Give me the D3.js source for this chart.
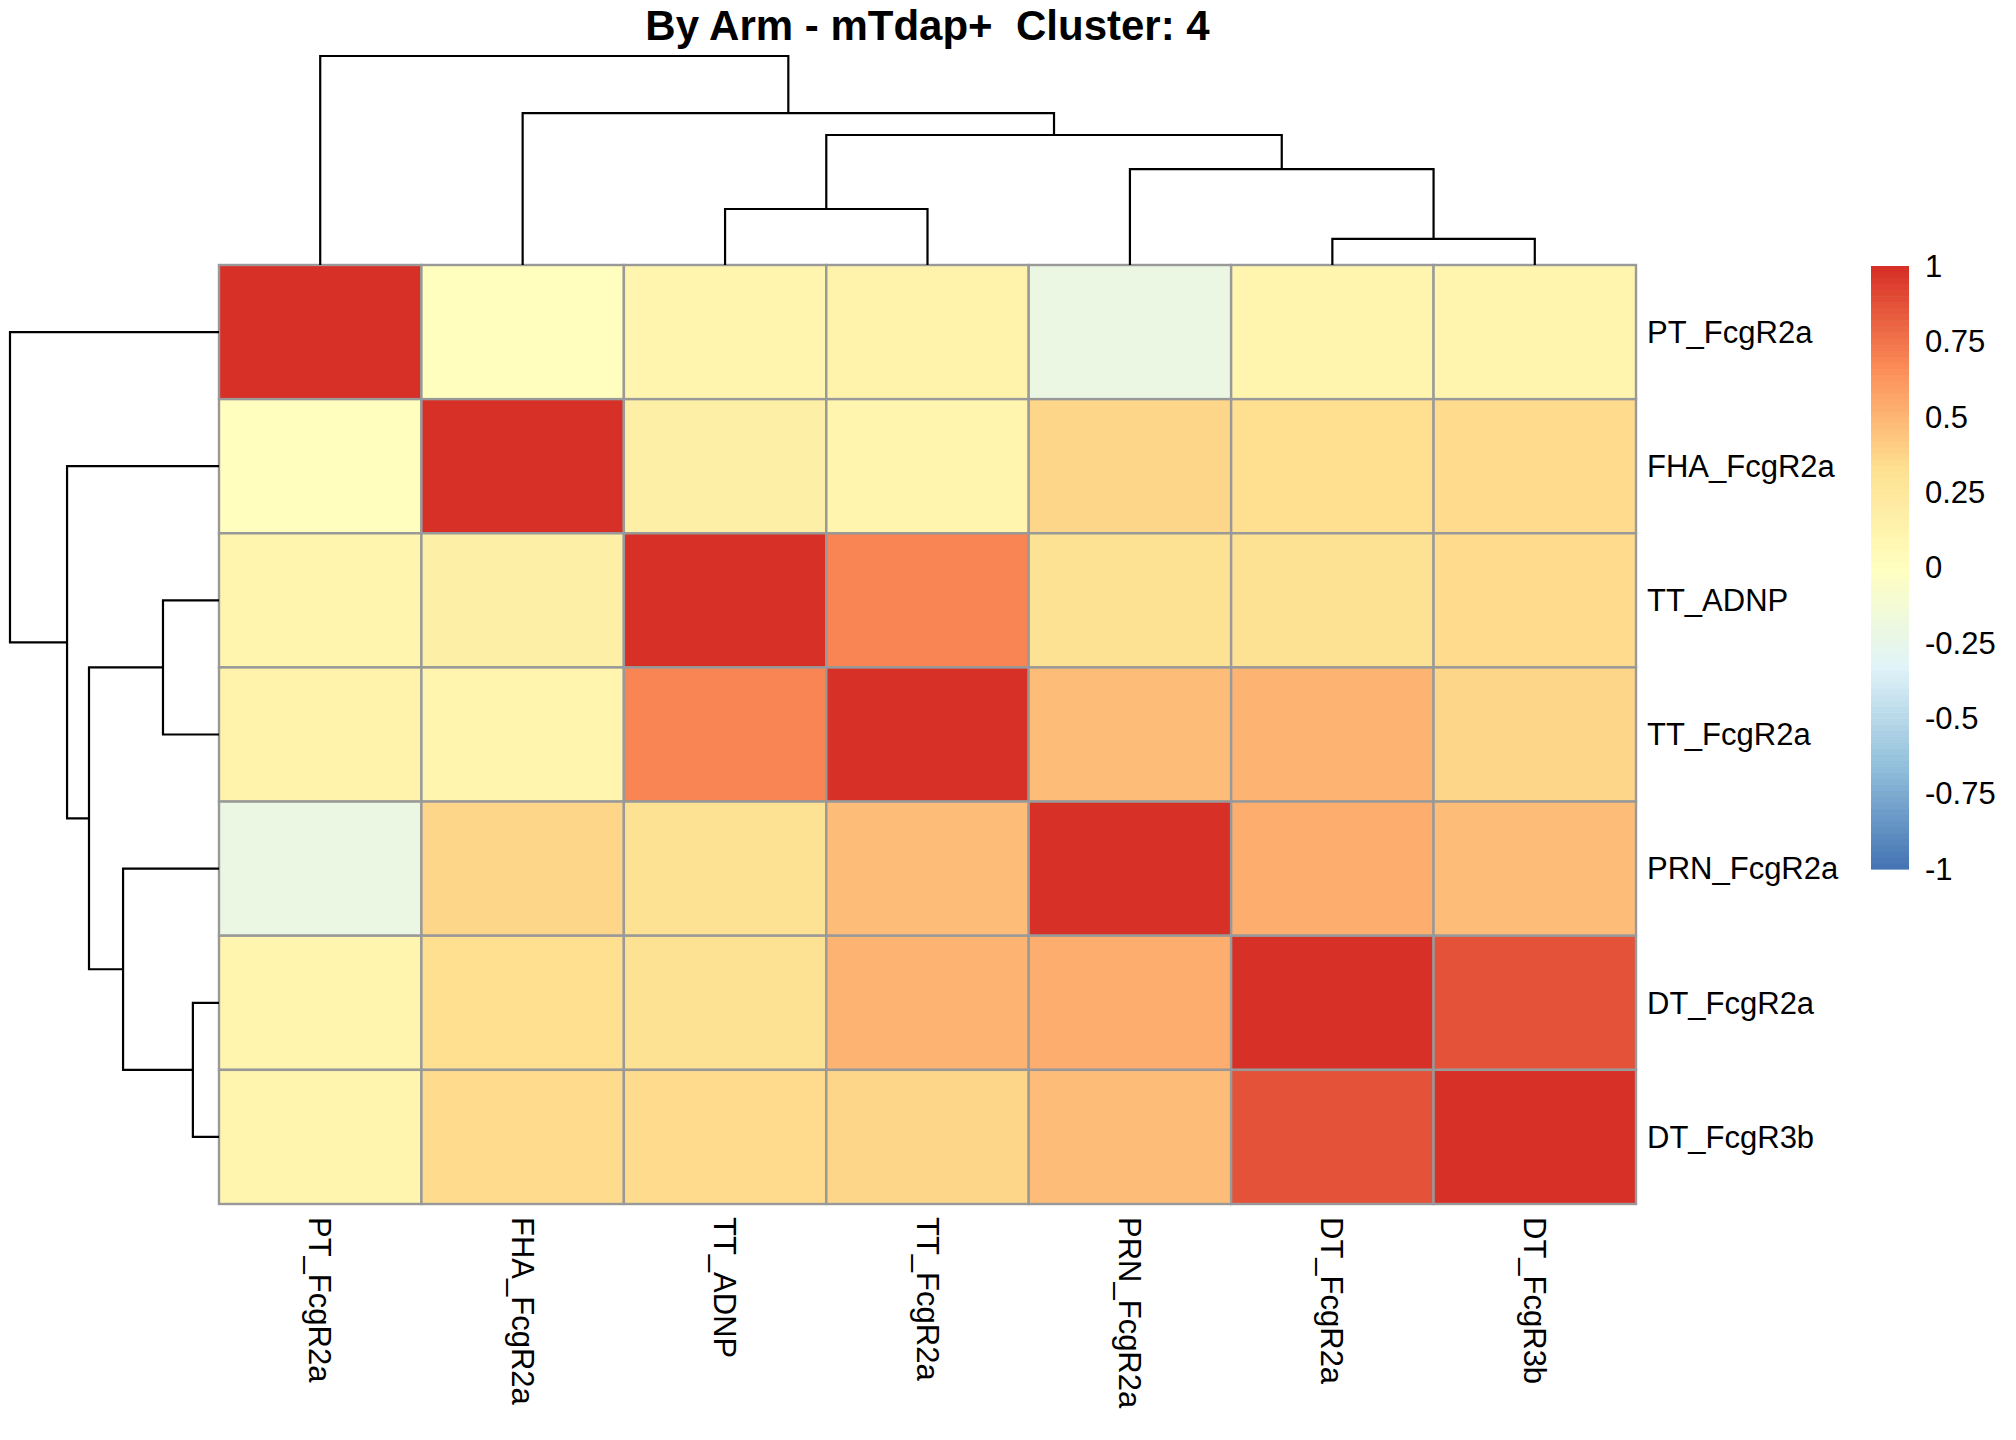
<!DOCTYPE html>
<html>
<head>
<meta charset="utf-8">
<script src="https://cdn.jsdelivr.net/npm/d3@7"></script>
<style>
  body { margin: 0; background: #fff; }
  text { font-family: "Liberation Sans", Arial, sans-serif; fill: #000; }
</style>
</head>
<body>
<svg id="heatmap-svg" width="2016" height="1440"></svg>
<script>
// leaf order as drawn (same for rows and columns)
const labels = ["PT_FcgR2a", "FHA_FcgR2a", "TT_ADNP", "TT_FcgR2a", "PRN_FcgR2a", "DT_FcgR2a", "DT_FcgR3b"]

// correlation matrix, one row per label
const rowPT  = [1.00, 0.01, 0.10, 0.12, -0.22, 0.11, 0.10]
const rowFHA = [0.01, 1.00, 0.16, 0.10, 0.36, 0.32, 0.35]
const rowTTA = [0.10, 0.16, 1.00, 0.69, 0.30, 0.31, 0.34]
const rowTTF = [0.12, 0.10, 0.69, 1.00, 0.47, 0.50, 0.36]
const rowPRN = [-0.22, 0.36, 0.30, 0.47, 1.00, 0.53, 0.47]
const rowDT2 = [0.11, 0.32, 0.31, 0.50, 0.53, 1.00, 0.86]
const rowDT3 = [0.10, 0.35, 0.34, 0.36, 0.47, 0.86, 1.00]
const matrix = [rowPT, rowFHA, rowTTA, rowTTF, rowPRN, rowDT2, rowDT3]

// hclust style merges: negative = leaf (1-based), positive = earlier merge
const mergeLeft   = [-6, -3, -5, 2, -2, -1]
const mergeRight  = [-7, -4,  1, 3,  4,  5]
const mergeHeight = [0.125, 0.268, 0.459, 0.622, 0.727, 1.0]

const legendTicks = ["-1", "-0.75", "-0.5", "-0.25", "0", "0.25", "0.5", "0.75", "1"]
const paletteStops = ["#4575B4", "#91BFDB", "#E0F3F8", "#FFFFBF", "#FEE090", "#FC8D59", "#D73027"]

const title = "By Arm - mTdap+\u00a0\u00a0Cluster: 4"

function initChart() {
  const svg = d3.select('#heatmap-svg')

  const left = 219, right = 1636, top = 265, bottom = 1204
  const fontSize = 31

  const x = d3.scaleBand().domain(labels).range([left, right])
  const y = d3.scaleBand().domain(labels).range([top, bottom])

  // pheatmap default: 100 colours ramped from RdYlBu (reversed), breaks -1..1
  const ramp = d3.piecewise(d3.interpolateRgb, paletteStops)
  const color = d3.scaleQuantize()
      .domain([-1, 1])
      .range(d3.range(100).map(i => ramp(i / 99)))

  const cells = []
  matrix.forEach((row, i) => row.forEach((v, j) => cells.push({ r: labels[i], c: labels[j], v })))

  svg.append("g")
    .selectAll("rect")
    .data(cells)
    .join("rect")
      .attr("x", d => x(d.c))
      .attr("y", d => y(d.r))
      .attr("width", x.bandwidth())
      .attr("height", y.bandwidth())
      .attr("fill", d => color(d.v))
      .attr("stroke", "#999999")
      .attr("stroke-width", 2.4);

  // dendrogram node positions from the merge table
  const nodePos = []
  const leafPos = (idx, band) => band(labels[idx - 1]) + band.bandwidth() / 2
  function childPos(k, band) {
    return k < 0 ? leafPos(-k, band) : nodePos[k - 1]
  }
  function childHeight(k) {
    return k < 0 ? 0 : mergeHeight[k - 1]
  }

  function drawTree(g, band, hScale, horizontal) {
    nodePos.length = 0
    mergeHeight.forEach((h, m) => {
      const a = childPos(mergeLeft[m], band)
      const b = childPos(mergeRight[m], band)
      const ha = childHeight(mergeLeft[m])
      const hb = childHeight(mergeRight[m])
      nodePos.push((a + b) / 2)
      const pts = [[a, ha], [a, h], [b, h], [b, hb]]
      const line = horizontal
        ? d3.line().x(p => p[0]).y(p => hScale(p[1]))
        : d3.line().x(p => hScale(p[1])).y(p => p[0])
      g.append("path")
        .attr("d", line(pts))
        .attr("fill", "none")
        .attr("stroke", "#000")
        .attr("stroke-width", 2.2)
    })
  }

  const colH = d3.scaleLinear().domain([0, 1]).range([top, 56])
  drawTree(svg.append("g"), x, colH, true)

  const rowH = d3.scaleLinear().domain([0, 1]).range([left, 10])
  drawTree(svg.append("g"), y, rowH, false)

  // row labels
  svg.append("g")
    .selectAll("text")
    .data(labels)
    .join("text")
      .attr("x", right + 11)
      .attr("y", d => y(d) + y.bandwidth() / 2)
      .attr("dy", "0.35em")
      .style("font-size", fontSize + "px")
      .text(d => d);

  // column labels, rotated
  svg.append("g")
    .selectAll("text")
    .data(labels)
    .join("text")
      .attr("transform", d => `translate(${x(d) + x.bandwidth() / 2},${bottom + 13}) rotate(90)`)
      .attr("dy", "0.35em")
      .style("font-size", fontSize + "px")
      .text(d => d);

  // legend
  const legY = d3.scaleLinear().domain([-1, 1]).range([869, 266])
  const legX = 1871, legW = 38
  const steps = color.range()
  svg.append("g")
    .selectAll("rect")
    .data(steps)
    .join("rect")
      .attr("x", legX)
      .attr("y", (d, i) => legY(-1 + (i + 1) * 0.02))
      .attr("width", legW)
      .attr("height", (legY(-1) - legY(1)) / 100 + 0.6)
      .attr("fill", d => d);

  svg.append("g")
    .selectAll("text")
    .data(legendTicks)
    .join("text")
      .attr("x", 1925)
      .attr("y", d => legY(+d))
      .attr("dy", "0.35em")
      .style("font-size", fontSize + "px")
      .text(d => d);

  svg.append("text")
    .attr("x", (left + right) / 2)
    .attr("y", 40)
    .attr("text-anchor", "middle")
    .style("font-size", "42px")
    .style("font-weight", "bold")
    .text(title);
}

initChart()
</script>
</body>
</html>
